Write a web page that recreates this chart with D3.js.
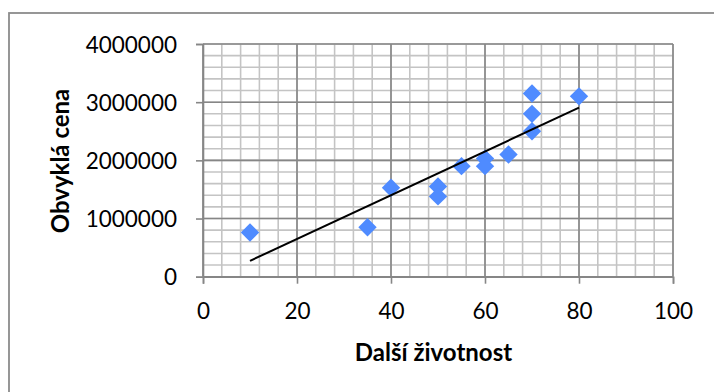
<!DOCTYPE html>
<html>
<head>
<meta charset="utf-8">
<script src="https://cdn.jsdelivr.net/npm/d3@7/dist/d3.min.js"></script>
<style>
  html, body { margin: 0; padding: 0; background: #fff; }
  svg { display: block; }
  text { font-family: Lato, "Open Sans", sans-serif; fill: #000; }
</style>
</head>
<body>
<svg id="chart" width="714" height="392"></svg>
<script>
// Remaining lifetime (years) vs. usual price
const lifetime = [10, 35, 40, 50, 50, 55, 60, 60, 65, 70, 70, 70, 80];
const price = [760000, 850000, 1530000, 1550000, 1380000, 1900000, 2030000, 1900000,
               2100000, 2500000, 2800000, 3150000, 3100000];

const xTicks = [0, 20, 40, 60, 80, 100];
const yTicks = [0, 1000000, 2000000, 3000000, 4000000];
const xMinorStep = 4;
const yMinorStep = 200000;

const xTitle = "Další životnost";
const yTitle = "Obvyklá cena";

const svg = d3.select("#chart");

const plot = { left: 203, right: 673, top: 44, bottom: 276.7 };

const x = d3.scaleLinear().domain([0, 100]).range([plot.left, plot.right]);
const y = d3.scaleLinear().domain([0, 4000000]).range([plot.bottom, plot.top]);

// outer chart frame (runs past the right and bottom edges)
svg.append("rect")
  .attr("x", 9).attr("y", 13)
  .attr("width", 740).attr("height", 420)
  .attr("fill", "#fff")
  .attr("stroke", "#8c8c8c")
  .attr("stroke-width", 1.8);

// minor grid
const xMinor = d3.range(0, 100 + 1e-9, xMinorStep);
const yMinor = d3.range(0, 4000000 + 1, yMinorStep);
const grid = svg.append("g");
grid.selectAll("line.xm").data(xMinor).join("line")
  .attr("x1", d => x(d)).attr("x2", d => x(d))
  .attr("y1", plot.top).attr("y2", plot.bottom)
  .attr("stroke", "#c4c4c4").attr("stroke-width", 1.6);
grid.selectAll("line.ym").data(yMinor).join("line")
  .attr("x1", plot.left).attr("x2", plot.right)
  .attr("y1", d => y(d)).attr("y2", d => y(d))
  .attr("stroke", "#c4c4c4").attr("stroke-width", 1.6);

// major grid
grid.selectAll("line.xM").data(xTicks).join("line")
  .attr("x1", d => x(d)).attr("x2", d => x(d))
  .attr("y1", plot.top).attr("y2", plot.bottom)
  .attr("stroke", "#868686").attr("stroke-width", 1.6);
grid.selectAll("line.yM").data(yTicks).join("line")
  .attr("x1", plot.left).attr("x2", plot.right)
  .attr("y1", d => y(d)).attr("y2", d => y(d))
  .attr("stroke", "#868686").attr("stroke-width", 1.6);

// axes
const fmt = d3.format("d");
const yAxis = svg.append("g")
  .attr("transform", `translate(${plot.left},0)`)
  .call(d3.axisLeft(y).tickValues(yTicks).tickFormat(fmt).tickSize(7).tickPadding(19));
const xAxis = svg.append("g")
  .attr("transform", `translate(0,${plot.bottom})`)
  .call(d3.axisBottom(x).tickValues(xTicks).tickFormat(fmt).tickSize(7).tickPadding(10));

[xAxis, yAxis].forEach(a => {
  a.select(".domain").attr("stroke", "#868686").attr("stroke-width", 1.6);
  a.selectAll(".tick line").attr("stroke", "#868686").attr("stroke-width", 1.6);
  a.selectAll(".tick text")
    .attr("font-family", "Lato, 'Open Sans', sans-serif")
    .attr("font-size", 22.5).attr("fill", "#000");
});
yAxis.selectAll(".tick text").attr("dy", "0.36em");
xAxis.selectAll(".tick text").attr("y", 34.5).attr("dy", "0.36em");

// data points
const diamond = d3.symbol().type(d3.symbolDiamond2).size(215);
svg.append("g").selectAll("path").data(lifetime).join("path")
  .attr("d", diamond)
  .attr("transform", (d, i) => `translate(${x(d)},${y(price[i])})`)
  .attr("fill", "#4f8bff");

// linear trend line (least squares)
const mx = d3.mean(lifetime), my = d3.mean(price);
const sxy = d3.sum(lifetime, (d, i) => (d - mx) * (price[i] - my));
const sxx = d3.sum(lifetime, d => (d - mx) * (d - mx));
const slope = sxy / sxx, intercept = my - slope * mx;
const [xmin, xmax] = d3.extent(lifetime);
svg.append("line")
  .attr("x1", x(xmin)).attr("y1", y(intercept + slope * xmin))
  .attr("x2", x(xmax)).attr("y2", y(intercept + slope * xmax))
  .attr("stroke", "#000").attr("stroke-width", 2);

// axis titles
svg.append("text")
  .attr("x", 433.5).attr("y", 352).attr("dy", "0.36em")
  .attr("text-anchor", "middle")
  .attr("font-size", 24).attr("font-weight", "bold")
  .text(xTitle);
svg.append("text")
  .attr("transform", "translate(60,161) rotate(-90)")
  .attr("dy", "0.36em")
  .attr("text-anchor", "middle")
  .attr("font-size", 24).attr("font-weight", "bold")
  .text(yTitle);
</script>
</body>
</html>
